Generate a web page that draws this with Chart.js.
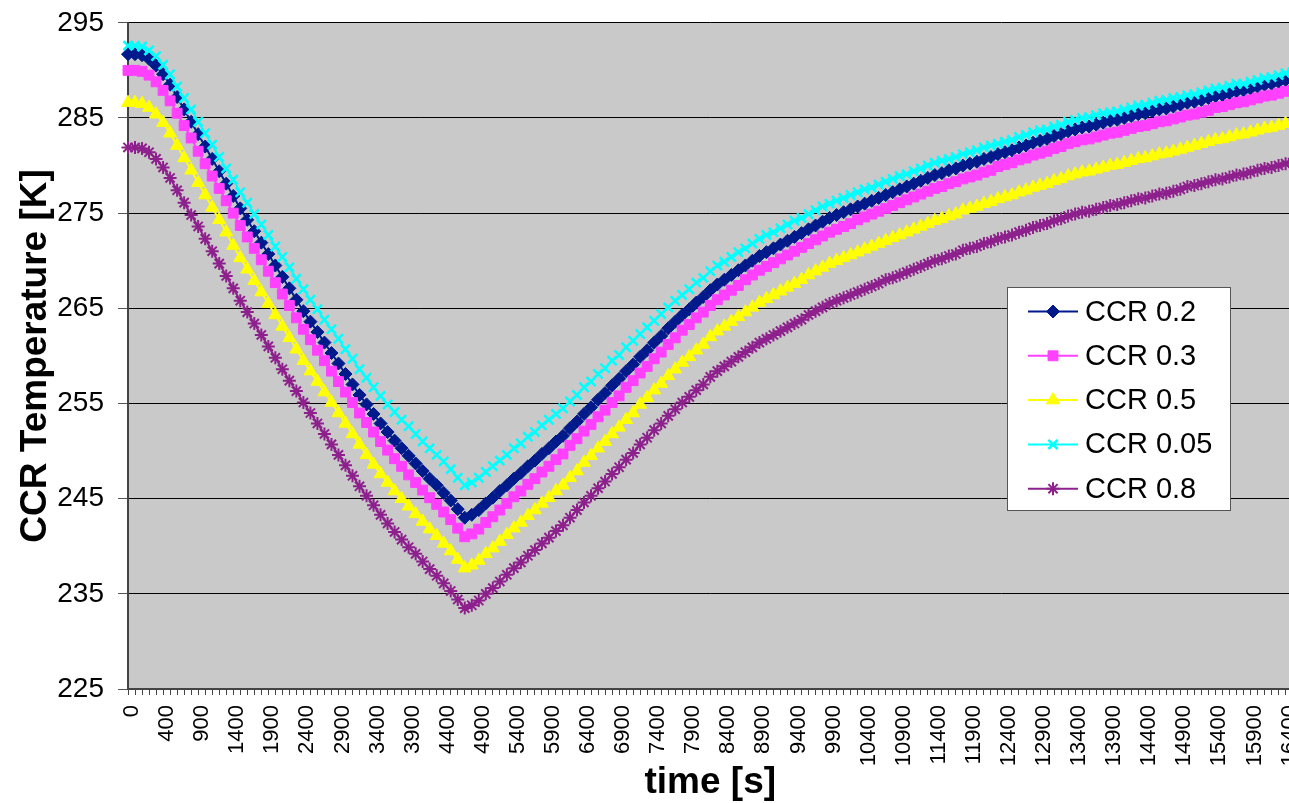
<!DOCTYPE html>
<html>
<head>
<meta charset="utf-8">
<script src="https://cdn.jsdelivr.net/npm/chart.js@4.4.0/dist/chart.umd.min.js"></script>
<style>
  html, body { margin: 0; padding: 0; background: #fff; overflow: hidden; }
  #wrap { position: relative; width: 1329px; height: 811px; margin-top: -8px; }
</style>
</head>
<body>
<div id="wrap"><canvas id="c"></canvas></div>
<script>
// time categories: first two samples both at t = 0, then every 100 s
const timeSec = [0];
for (let t = 0; t <= 16500; t += 100) timeSec.push(t);

const yTicks = [225, 235, 245, 255, 265, 275, 285, 295];

const ccr02 = [
  291.7, 291.7, 291.6, 291.2, 290.5, 289.6, 288.5, 287.2, 285.9, 284.6,
  283.3, 282.0, 280.7, 279.4, 278.1, 276.8, 275.5, 274.3, 273.1, 271.9,
  270.7, 269.5, 268.3, 267.1, 265.9, 264.7, 263.6, 262.5, 261.4, 260.3,
  259.2, 258.1, 257.0, 255.9, 254.9, 253.9, 252.9, 252.0, 251.1, 250.3,
  249.5, 248.7, 247.9, 247.1, 246.4, 245.6, 244.8, 243.9, 243.0, 243.3,
  243.8, 244.5, 245.1, 245.8, 246.4, 247.1, 247.7, 248.4, 249.0, 249.7,
  250.3, 251.0, 251.6, 252.4, 253.1, 253.9, 254.6, 255.4, 256.1, 256.9,
  257.6, 258.4, 259.1, 259.9, 260.6, 261.4, 262.1, 262.9, 263.6, 264.3,
  264.9, 265.6, 266.2, 266.9, 267.5, 268.0, 268.5, 269.0, 269.5, 270.0,
  270.5, 270.9, 271.3, 271.7, 272.1, 272.5, 272.9, 273.3, 273.7, 274.1,
  274.5, 274.8, 275.1, 275.4, 275.7, 276.0, 276.3, 276.6, 276.9, 277.2,
  277.5, 277.8, 278.1, 278.4, 278.7, 279.0, 279.2, 279.5, 279.7, 280.0,
  280.2, 280.4, 280.7, 280.9, 281.2, 281.4, 281.6, 281.9, 282.1, 282.4,
  282.6, 282.8, 283.1, 283.3, 283.6, 283.8, 284.0, 284.1, 284.3, 284.5,
  284.7, 284.8, 285.0, 285.2, 285.4, 285.5, 285.7, 285.9, 286.0, 286.2,
  286.4, 286.6, 286.7, 286.9, 287.1, 287.3, 287.4, 287.6, 287.8, 287.9,
  288.1, 288.3, 288.5, 288.6, 288.8, 289.0, 289.1
];

const ccr03 = [
  290.0, 290.0, 289.9, 289.5, 288.8, 287.9, 286.8, 285.5, 284.2, 282.9,
  281.5, 280.2, 278.9, 277.6, 276.3, 275.0, 273.7, 272.5, 271.3, 270.1,
  268.9, 267.7, 266.5, 265.3, 264.0, 262.8, 261.7, 260.6, 259.5, 258.4,
  257.3, 256.2, 255.1, 254.0, 253.0, 252.0, 251.0, 250.1, 249.2, 248.4,
  247.5, 246.7, 245.9, 245.1, 244.4, 243.6, 242.8, 241.9, 241.0, 241.3,
  241.8, 242.5, 243.1, 243.8, 244.5, 245.2, 245.8, 246.5, 247.1, 247.8,
  248.4, 249.1, 249.7, 250.6, 251.3, 252.1, 252.8, 253.6, 254.3, 255.1,
  255.8, 256.7, 257.4, 258.2, 258.9, 259.7, 260.4, 261.2, 261.9, 262.7,
  263.3, 264.0, 264.6, 265.3, 265.9, 266.4, 266.9, 267.4, 268.0, 268.5,
  269.0, 269.4, 269.8, 270.2, 270.6, 271.0, 271.4, 271.8, 272.2, 272.6,
  273.0, 273.3, 273.6, 273.9, 274.3, 274.6, 274.9, 275.2, 275.5, 275.8,
  276.1, 276.4, 276.7, 277.0, 277.3, 277.6, 277.8, 278.1, 278.3, 278.6,
  278.8, 279.0, 279.3, 279.5, 279.9, 280.1, 280.3, 280.6, 280.8, 281.1,
  281.3, 281.5, 281.8, 282.0, 282.3, 282.5, 282.7, 282.8, 283.0, 283.2,
  283.4, 283.5, 283.7, 283.9, 284.1, 284.2, 284.4, 284.6, 284.7, 284.9,
  285.1, 285.3, 285.4, 285.6, 285.8, 286.1, 286.2, 286.4, 286.6, 286.7,
  286.9, 287.1, 287.3, 287.4, 287.6, 287.8, 287.9
];

const ccr05 = [
  286.6, 286.6, 286.5, 286.1, 285.4, 284.5, 283.4, 282.1, 280.8, 279.5,
  278.2, 276.9, 275.6, 274.3, 273.0, 271.6, 270.3, 269.1, 267.9, 266.7,
  265.5, 264.3, 263.1, 261.9, 260.7, 259.5, 258.4, 257.3, 256.2, 255.1,
  254.0, 252.9, 251.8, 250.7, 249.6, 248.6, 247.6, 246.7, 245.8, 245.0,
  244.2, 243.4, 242.6, 241.8, 241.1, 240.3, 239.5, 238.6, 237.7, 238.0,
  238.5, 239.2, 239.8, 240.5, 241.2, 241.9, 242.5, 243.2, 243.8, 244.5,
  245.1, 245.8, 246.4, 247.2, 247.9, 248.8, 249.5, 250.3, 251.0, 251.8,
  252.5, 253.3, 254.0, 254.9, 255.6, 256.4, 257.1, 257.9, 258.6, 259.3,
  259.9, 260.6, 261.2, 262.0, 262.6, 263.1, 263.6, 264.1, 264.6, 265.1,
  265.6, 266.0, 266.4, 266.8, 267.2, 267.6, 268.0, 268.5, 268.9, 269.3,
  269.7, 270.0, 270.3, 270.6, 270.9, 271.2, 271.5, 271.8, 272.1, 272.4,
  272.7, 273.0, 273.3, 273.6, 273.9, 274.2, 274.4, 274.7, 274.9, 275.3,
  275.5, 275.7, 276.0, 276.2, 276.5, 276.7, 276.9, 277.2, 277.4, 277.7,
  277.9, 278.1, 278.4, 278.6, 278.9, 279.1, 279.3, 279.4, 279.6, 279.8,
  280.0, 280.1, 280.3, 280.5, 280.7, 280.8, 281.0, 281.2, 281.3, 281.5,
  281.7, 281.9, 282.1, 282.3, 282.5, 282.7, 282.8, 283.0, 283.2, 283.3,
  283.5, 283.7, 283.9, 284.0, 284.2, 284.4, 284.5
];

const ccr005 = [
  292.6, 292.6, 292.5, 292.1, 291.5, 290.6, 289.6, 288.3, 287.1, 285.9,
  284.6, 283.4, 282.2, 280.9, 279.7, 278.5, 277.2, 276.1, 274.9, 273.8,
  272.7, 271.5, 270.4, 269.3, 268.1, 267.0, 265.9, 264.9, 263.8, 262.8,
  261.8, 260.7, 259.7, 258.6, 257.7, 256.7, 255.8, 254.9, 254.1, 253.3,
  252.6, 251.8, 251.0, 250.3, 249.6, 248.9, 248.1, 247.2, 246.4, 246.7,
  247.2, 247.8, 248.4, 249.0, 249.6, 250.3, 250.8, 251.5, 252.0, 252.7,
  253.3, 253.9, 254.5, 255.2, 255.9, 256.7, 257.3, 258.1, 258.7, 259.5,
  260.1, 260.9, 261.6, 262.3, 263.0, 263.7, 264.4, 265.1, 265.8, 266.4,
  267.0, 267.7, 268.2, 268.9, 269.5, 269.9, 270.4, 270.9, 271.3, 271.8,
  272.3, 272.7, 273.0, 273.4, 273.8, 274.2, 274.5, 274.9, 275.3, 275.7,
  276.0, 276.3, 276.6, 276.9, 277.2, 277.5, 277.7, 278.0, 278.3, 278.6,
  278.9, 279.1, 279.4, 279.7, 280.0, 280.3, 280.5, 280.7, 280.9, 281.2,
  281.4, 281.6, 281.9, 282.1, 282.3, 282.5, 282.7, 283.0, 283.2, 283.5,
  283.7, 283.8, 284.1, 284.3, 284.6, 284.8, 285.0, 285.1, 285.3, 285.5,
  285.6, 285.7, 285.9, 286.1, 286.3, 286.4, 286.6, 286.8, 286.9, 287.1,
  287.2, 287.4, 287.5, 287.7, 287.9, 288.1, 288.2, 288.4, 288.6, 288.6,
  288.8, 289.0, 289.2, 289.3, 289.5, 289.7, 289.8
];

const ccr08 = [
  281.9, 281.9, 281.8, 281.4, 280.7, 279.8, 278.7, 277.4, 276.1, 274.8,
  273.6, 272.3, 271.0, 269.7, 268.4, 267.1, 265.8, 264.6, 263.4, 262.2,
  261.0, 259.8, 258.6, 257.4, 256.3, 255.1, 254.0, 252.9, 251.8, 250.7,
  249.6, 248.5, 247.4, 246.3, 245.3, 244.3, 243.3, 242.4, 241.5, 240.7,
  239.9, 239.2, 238.4, 237.6, 236.9, 236.1, 235.3, 234.4, 233.5, 233.8,
  234.3, 235.0, 235.6, 236.3, 237.0, 237.7, 238.3, 239.0, 239.6, 240.3,
  240.9, 241.6, 242.2, 243.0, 243.8, 244.6, 245.3, 246.1, 246.8, 247.6,
  248.3, 249.1, 249.8, 250.7, 251.4, 252.2, 252.9, 253.7, 254.4, 255.1,
  255.7, 256.4, 257.0, 257.8, 258.4, 258.9, 259.4, 259.9, 260.4, 260.9,
  261.4, 261.8, 262.2, 262.6, 263.0, 263.4, 263.8, 264.3, 264.7, 265.1,
  265.5, 265.8, 266.1, 266.4, 266.7, 267.0, 267.3, 267.6, 268.0, 268.2,
  268.5, 268.8, 269.1, 269.4, 269.7, 270.0, 270.2, 270.5, 270.7, 271.1,
  271.3, 271.5, 271.8, 272.0, 272.3, 272.5, 272.7, 273.0, 273.2, 273.5,
  273.7, 273.9, 274.2, 274.4, 274.7, 274.9, 275.1, 275.2, 275.4, 275.6,
  275.8, 275.9, 276.1, 276.3, 276.5, 276.6, 276.8, 277.0, 277.1, 277.3,
  277.5, 277.8, 277.9, 278.1, 278.3, 278.5, 278.6, 278.8, 279.0, 279.1,
  279.3, 279.5, 279.7, 279.8, 280.0, 280.2, 280.3
];

const seriesNames = ['CCR 0.2', 'CCR 0.3', 'CCR 0.5', 'CCR 0.05', 'CCR 0.8'];
const seriesData = [ccr02, ccr03, ccr05, ccr005, ccr08];
const seriesColors = ['#001a8c', '#ff40ff', '#ffff00', '#00ffff', '#8e208e'];
const seriesMarkers = ['rectRot', 'rect', 'triangle', 'crossRot', 'star'];
const markerSize = [6.5, 7, 7.5, 6.5, 6.5];
const markerLine = [1, 1, 1, 2.5, 2];

// page is shifted up 8px (see css), so legend coords carry +8
const shiftY = 8;

// grey plot area, like the old Excel default
const plotBg = {
  id: 'plotBg',
  beforeDraw(chart) {
    const a = chart.chartArea, ctx = chart.ctx;
    ctx.save();
    ctx.fillStyle = '#c9c9c9';
    ctx.fillRect(a.left, a.top, a.right - a.left, a.bottom - a.top);
    ctx.restore();
  }
};

// boxed legend with line + marker samples
const boxLegend = {
  id: 'boxLegend',
  afterDraw(chart) {
    const ctx = chart.ctx;
    const bx = 1007.5, by = 287.5 + shiftY, bw = 223, bh = 223;
    ctx.save();
    ctx.fillStyle = '#ffffff';
    ctx.fillRect(bx, by, bw, bh);
    ctx.strokeStyle = '#555';
    ctx.lineWidth = 1;
    ctx.strokeRect(bx, by, bw, bh);
    ctx.font = '29px "Liberation Sans", Arial, sans-serif';
    ctx.textBaseline = 'middle';
    seriesNames.forEach((name, i) => {
      const y = 311.5 + shiftY + i * 44.3;
      ctx.strokeStyle = seriesColors[i];
      ctx.lineWidth = 2;
      ctx.beginPath();
      ctx.moveTo(1028, y);
      ctx.lineTo(1078, y);
      ctx.stroke();
      ctx.fillStyle = seriesColors[i];
      ctx.lineWidth = markerLine[i];
      Chart.helpers.drawPoint(ctx, {
        pointStyle: seriesMarkers[i], radius: markerSize[i],
        borderWidth: markerLine[i], rotation: 0
      }, 1053, y);
      ctx.fillStyle = '#000';
      ctx.fillText(name, 1085, y + 1);
    });
    ctx.restore();
  }
};

const datasets = seriesNames.map((name, i) => ({
  label: name,
  data: seriesData[i],
  borderColor: seriesColors[i],
  backgroundColor: seriesColors[i],
  borderWidth: 2,
  pointStyle: seriesMarkers[i],
  pointRadius: markerSize[i],
  pointBorderWidth: markerLine[i],
  pointBackgroundColor: seriesColors[i],
  pointBorderColor: seriesColors[i],
  tension: 0,
  order: seriesNames.length - i
}));

new Chart(document.getElementById('c'), {
  type: 'line',
  data: { labels: timeSec.map(String), datasets },
  options: {
    responsive: true,
    maintainAspectRatio: false,
    animation: false,
    events: [],
    layout: { padding: { left: 0, top: 22, right: 7, bottom: 0 } },
    plugins: { legend: { display: false }, tooltip: { enabled: false } },
    scales: {
      x: {
        type: 'category',
        offset: false,
        afterFit(s) { s.height = 114; },
        grid: { drawOnChartArea: false, drawTicks: true, tickLength: 6, tickColor: '#444', lineWidth: 1 },
        border: { color: '#444', width: 2 },
        ticks: {
          autoSkip: false, minRotation: 90, maxRotation: 90, padding: 10, labelOffset: 4,
          color: '#000', font: { family: '"Liberation Sans", Arial, sans-serif', size: 22 },
          callback(v, i) { return i % 5 === 0 ? this.getLabelForValue(v) : ''; }
        },
        title: {
          display: true, text: 'time [s]', color: '#000',
          font: { family: '"Liberation Sans", Arial, sans-serif', size: 37, weight: 'bold', lineHeight: 1 },
          padding: { top: 0, bottom: 2 }
        }
      },
      y: {
        min: 225, max: 295,
        afterFit(s) { s.width = 128; },
        afterBuildTicks(s) { s.ticks = yTicks.map(v => ({ value: v })); },
        grid: { color: '#000', tickColor: '#555', tickLength: 10, lineWidth: 1 },
        border: { color: '#444', width: 2 },
        ticks: {
          padding: 14, color: '#000',
          font: { family: '"Liberation Sans", Arial, sans-serif', size: 28 }
        },
        title: {
          display: true, text: 'CCR Temperature [K]', color: '#000',
          font: { family: '"Liberation Sans", Arial, sans-serif', size: 37, weight: 'bold', lineHeight: 1.2 },
          padding: { top: 14, bottom: 0 }
        }
      }
    }
  },
  plugins: [plotBg, boxLegend]
});
</script>
</body>
</html>
